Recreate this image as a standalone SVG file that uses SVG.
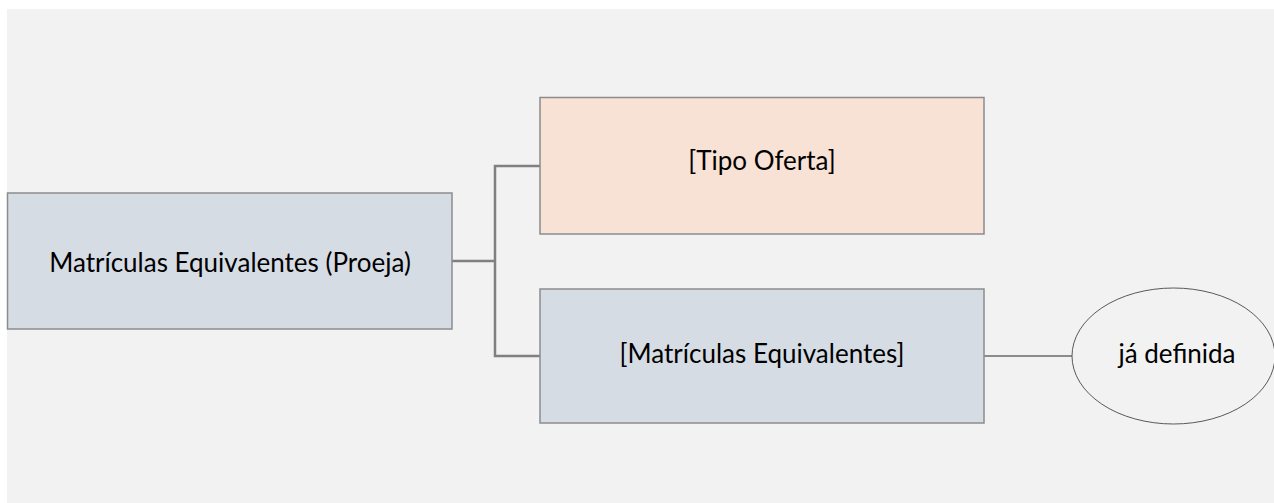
<svg xmlns="http://www.w3.org/2000/svg" width="1274" height="503" viewBox="0 0 1274 503">
<style>
.box{stroke:#8c8c8c;stroke-width:1.5}
.blue{fill:#d6dce4}
.peach{fill:#f8e1d5}
.lbl{font-family:Lato,"Liberation Sans",sans-serif;font-size:26px;fill:#000;text-anchor:middle}
.conn{fill:none;stroke:#808080;stroke-width:2.5}
</style>
<rect x="0" y="0" width="1274" height="503" fill="#ffffff"/>
<rect x="7" y="9" width="1267" height="494" fill="#f2f2f2"/>
<g id="connectors">
<polyline class="conn" points="452,261 495,261"/>
<polyline class="conn" points="540,166 495,166 495,356 540,356"/>
<line x1="984" y1="356" x2="1072" y2="356" stroke="#8c8c8c" stroke-width="2"/>
</g>
<g id="node-proeja">
<rect class="box blue" x="7.5" y="193" width="444.5" height="136"/>
<text class="lbl" x="230" y="272">Matrículas Equivalentes (Proeja)</text>
</g>
<g id="node-tipo-oferta">
<rect class="box peach" x="540" y="97.5" width="444" height="136.5"/>
<text class="lbl" x="762" y="170">[Tipo Oferta]</text>
</g>
<g id="node-matriculas">
<rect class="box blue" x="540" y="289" width="444" height="134"/>
<text class="lbl" x="762" y="363">[Matrículas Equivalentes]</text>
</g>
<g id="node-ja-definida">
<ellipse cx="1173.5" cy="356" rx="101.5" ry="68" fill="#f2f2f2" stroke="#595959" stroke-width="1"/>
<text class="lbl" x="1177" y="363">já definida</text>
</g>
</svg>
